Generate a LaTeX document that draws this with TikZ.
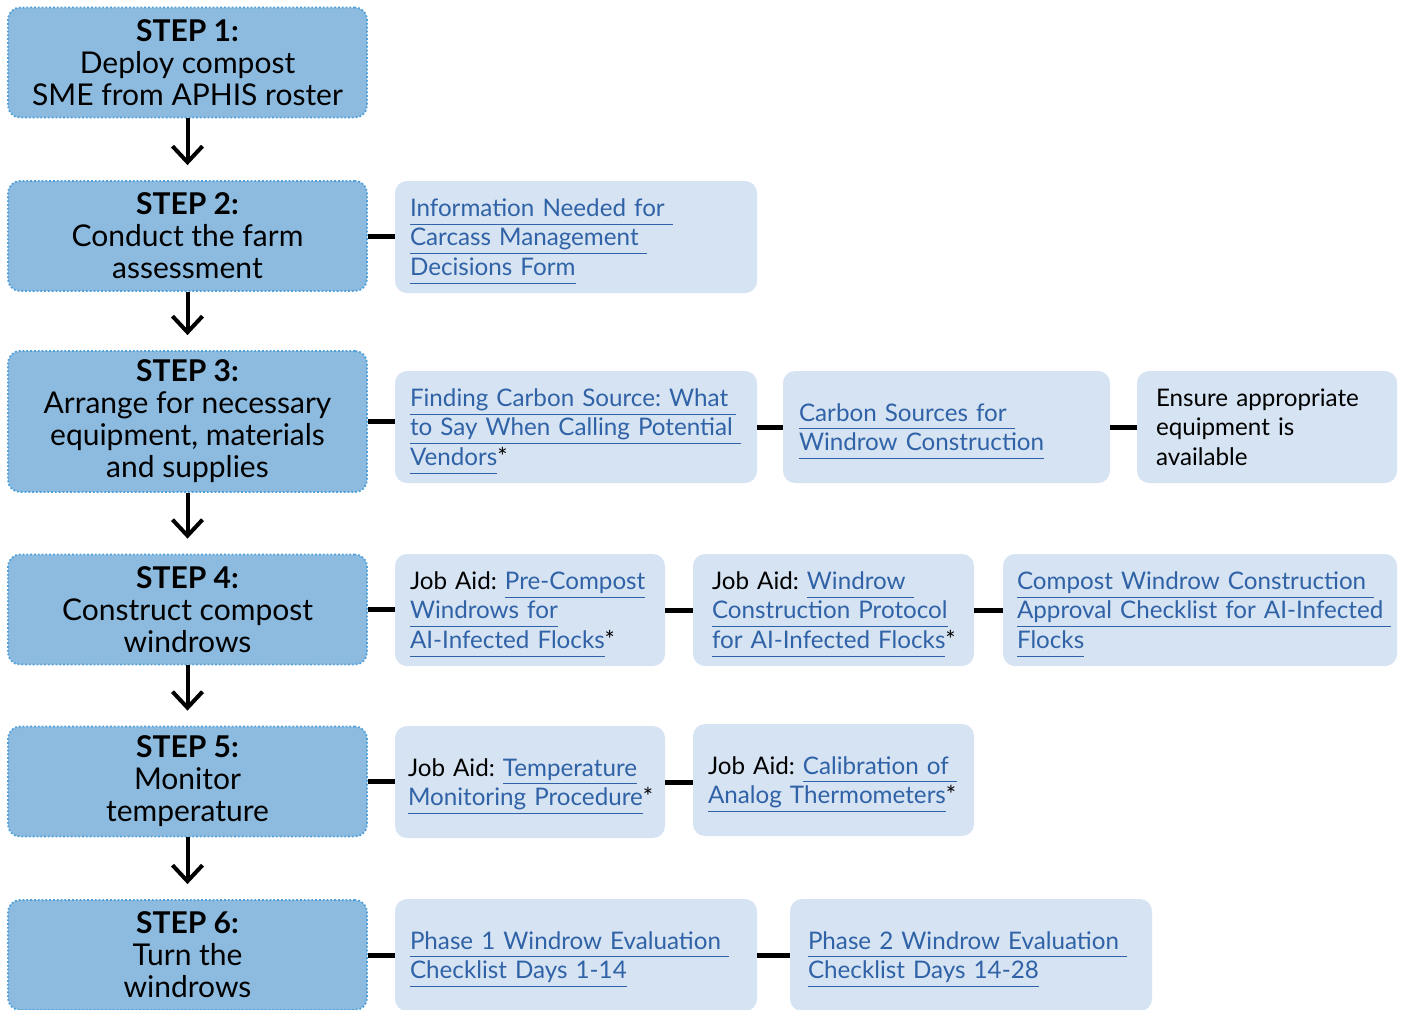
\documentclass[tikz,border=0pt]{standalone}
\usepackage{amsmath}
\usepackage{fontspec}
\setmainfont{Lato}
\usetikzlibrary{arrows.meta}

\definecolor{stepfill}{HTML}{8CBBDF}
\definecolor{stepedge}{HTML}{4FA0DA}
\definecolor{aidfill}{HTML}{D6E3F2}
\definecolor{linkblue}{HTML}{2F62A6}

\newcommand{\lnk}[1]{\textcolor{linkblue}{\smash[b]{\underline{\hbox{#1}\vphantom{gy}}}}}

\begin{document}
\frenchspacing
\begin{tikzpicture}[x=0.5pt,y=-0.5pt]
            \tikzset{stepbox/.style={fill=stepfill,draw=stepedge,densely dotted,line width=0.9pt,
                       rounded corners=6pt,minimum width=179.5pt,minimum height=55pt,
                       align=center,font=\fontsize{15}{16}\selectfont,inner sep=0pt}};
            \tikzset{aidbox/.style={fill=aidfill,rounded corners=6pt,minimum height=56pt,
                       align=left,inner xsep=7.5pt,font=\fontsize{12.1}{14.75}\selectfont}};
            \tikzset{flow/.style={line width=2pt,-{Straight Barb[length=8pt,width=15pt,line width=2pt]},shorten >=7.5pt}};
            \tikzset{link/.style={line width=2.5pt}};

            \useasboundingbox (0,0) rectangle (1401,1009);
            \clip (0,0) rectangle (1401,1009);

            % steps
            \node[stepbox] (s1) at (187.5,62.5) {\textbf{STEP 1:}\\Deploy compost\\SME from APHIS roster};
            \node[stepbox] (s2) at (187.5,236) {\textbf{STEP 2:}\\Conduct the farm\\assessment};
            \node[stepbox,minimum height=70.5pt] (s3) at (187.5,421.5) {\textbf{STEP 3:}\\Arrange for necessary\\equipment, materials\\and supplies};
            \node[stepbox] (s4) at (187.5,609.5) {\textbf{STEP 4:}\\Construct compost\\windrows};
            \node[stepbox] (s5) at (187.5,781.5) {\textbf{STEP 5:}\\Monitor\\temperature};
            \node[stepbox] (s6) at (187.5,955) {\textbf{STEP 6:}\\Turn the\\windrows};

            \draw[flow] (s1.south) -- (s2.north);
            \draw[flow] (s2.south) -- (s3.north);
            \draw[flow] (s3.south) -- (s4.north);
            \draw[flow] (s4.south) -- (s5.north);
            \draw[flow] (s5.south) -- (s6.north);

            % job aids
            \node[aidbox,text width=166pt] (r2a) at (576,237) {\lnk{Information Needed for }\\\lnk{Carcass Management }\\\lnk{Decisions Form}};

            \node[aidbox,text width=166pt] (r3a) at (576,427) {\lnk{Finding Carbon Source: What }\\\lnk{to Say When Calling Potential }\\\lnk{Vendors}*};
            \node[aidbox,text width=147.5pt,inner xsep=8pt] (r3b) at (946.5,427) {\lnk{Carbon Sources for }\\\lnk{Windrow Construction}};
            \node[aidbox,text width=111pt,inner xsep=9.5pt] (r3c) at (1267,427) {Ensure appropriate\\equipment is\\available};

            \node[aidbox,text width=120pt] (r4a) at (530,610) {Job Aid:~\lnk{Pre-Compost}\\\lnk{Windrows for}\\\lnk{AI-Infected Flocks}*};
            \node[aidbox,text width=121.5pt,inner xsep=9.5pt] (r4b) at (833.5,610) {Job Aid:~\lnk{Windrow }\\\lnk{Construction Protocol}\\\lnk{for AI-Infected Flocks}*};
            \node[aidbox,text width=183pt,inner xsep=7pt] (r4c) at (1200,610) {\lnk{Compost Windrow Construction }\\\lnk{Approval Checklist for AI-Infected }\\\lnk{Flocks}};

            \node[aidbox,text width=122pt,inner xsep=6.5pt] (r5a) at (530,782) {Job Aid:~\lnk{Temperature}\\\lnk{Monitoring Procedure}*};
            \node[aidbox,text width=125.5pt,inner xsep=7.5pt] (r5b) at (833.5,780) {Job Aid:~\lnk{Calibration of }\\\lnk{Analog Thermometers}*};

            \node[aidbox,text width=166pt] (r6a) at (576,955) {\lnk{Phase 1 Windrow Evaluation }\\\lnk{Checklist Days 1-14}};
            \node[aidbox,text width=163pt,inner xsep=9pt] (r6b) at (971,955) {\lnk{Phase 2 Windrow Evaluation }\\\lnk{Checklist Days 14-28}};

            % links
            \draw[link] (s2.east) -- (s2.east -| r2a.west);
            \draw[link] (s3.east) -- (s3.east -| r3a.west);
            \draw[link] (r3a.east) -- (r3b.west);
            \draw[link] (r3b.east) -- (r3c.west);
            \draw[link] (s4.east) -- (s4.east -| r4a.west);
            \draw[link] (r4a.east) -- (r4b.west);
            \draw[link] (r4b.east) -- (r4c.west);
            \draw[link] (s5.east) -- (s5.east -| r5a.west);
            \draw[link] (r5a.east) -- (r5a.east -| r5b.west);
            \draw[link] (s6.east) -- (s6.east -| r6a.west);
            \draw[link] (r6a.east) -- (r6b.west);
\end{tikzpicture}
\end{document}
